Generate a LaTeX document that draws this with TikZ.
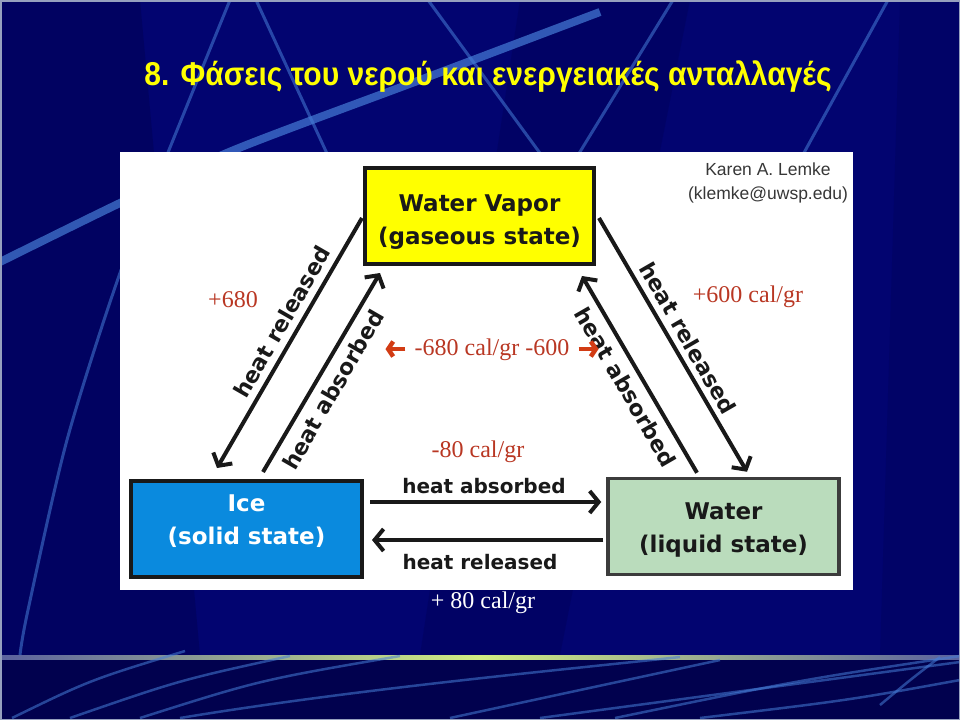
\documentclass[tikz,border=0pt]{standalone}
\usepackage{fontspec}
\usepackage{graphicx}
\setmainfont{Liberation Serif}
\newfontfamily\sansf{Liberation Sans}
\newfontfamily\dejavu{DejaVu Sans}
\usetikzlibrary{arrows.meta,calc}
\definecolor{navy}{RGB}{2,4,112}
\definecolor{navydark}{RGB}{0,0,70}
\definecolor{stripe}{RGB}{70,125,215}
\definecolor{ttl}{RGB}{255,255,0}
\definecolor{lbl}{RGB}{185,55,35}
\definecolor{lblarrow}{RGB}{210,60,20}
\definecolor{vapfill}{RGB}{255,255,0}
\definecolor{icefill}{RGB}{10,138,222}
\definecolor{watfill}{RGB}{186,220,188}
\definecolor{ink}{RGB}{25,25,25}
\definecolor{author}{RGB}{55,55,55}
\definecolor{glow}{RGB}{210,238,130}
\definecolor{frameline}{RGB}{150,160,190}
\begin{document}
\begin{tikzpicture}[x=1pt,y=-1pt,
  phase/.style={draw=ink,line width=4pt,minimum width=229pt,minimum height=96pt,align=center,inner sep=0pt,font=\dejavu\bfseries\fontsize{23}{33}\selectfont},
  flowarrow/.style={draw=ink,line width=4pt,-{Straight Barb[length=9pt,width=22pt]}},
  flowtext/.style={font=\dejavu\bfseries\fontsize{22}{26}\selectfont,text=ink,inner sep=0pt},
  htext/.style={font=\dejavu\bfseries\fontsize{20}{24}\selectfont,text=ink,inner sep=0pt},
  valtext/.style={font=\fontsize{24}{28}\selectfont,text=lbl,inner sep=0pt},
  redarrow/.style={draw=lblarrow,line width=4.5pt,-{Straight Barb[length=5pt,width=15pt]}},
  bgline/.style={draw=stripe,line width=3pt,opacity=0.55},
]
\useasboundingbox (0,0) rectangle (960,720);
% background
\fill[navy] (0,0) rectangle (960,720);
\fill[navydark,opacity=0.35] (0,0) -- (140,0) -- (200,655) -- (0,655) -- cycle;
\fill[navydark,opacity=0.25] (520,0) -- (690,0) -- (560,655) -- (420,655) -- cycle;
\fill[navydark,opacity=0.2] (900,0) -- (960,0) -- (960,655) -- (880,655) -- cycle;
\fill[navydark!80!navy] (0,657) rectangle (960,720);
\shade[left color=frameline!60!navy,right color=frameline!60!navy,middle color=glow] (0,655.5) rectangle (960,659);
% stripes top
\draw[bgline] plot[smooth] coordinates {(230,0) (169,150) (120,273) (67,440) (28,610) (20,655)};
\draw[bgline] (256,0) -- (330,160);
\draw[bgline] (428,0) -- (545,160);
\draw[bgline] (673,0) -- (575,160);
\draw[bgline] (888,0) -- (800,160);
\draw[stripe,line width=8pt,opacity=0.7] plot[smooth] coordinates {(600,12) (420,80) (234,150) (120,203) (0,262)};
% bottom lines
\draw[bgline,line width=2.5pt] (12,718) .. controls (90,680) .. (185,651);
\draw[bgline,line width=2.5pt] (70,718) .. controls (180,680) .. (290,656);
\draw[bgline,line width=2.5pt] (140,718) .. controls (260,680) .. (400,656);
\draw[bgline,line width=2.5pt] (180,718) .. controls (350,690) and (540,672) .. (680,657);
\draw[bgline,line width=2.5pt] (450,718) .. controls (580,690) .. (720,660);
\draw[bgline,line width=2.5pt] (540,718) .. controls (750,690) .. (960,662);
\draw[bgline,line width=2.5pt] (615,718) .. controls (800,680) .. (960,656);
\draw[bgline,line width=2.5pt] (700,718) .. controls (850,700) .. (960,680);
\draw[bgline,line width=2.5pt] (880,705) .. controls (910,680) .. (940,657);
\draw[frameline,line width=1.5pt] (0.75,0.75) rectangle (959.25,719.25);
% title
\node[font=\sansf\bfseries\fontsize{33}{38}\selectfont,text=ttl,inner sep=0pt] (title) at (488,77) {\scalebox{0.91}[1]{8. Φάσεις του νερού και ενεργειακές ανταλλαγές}};
% panel
\fill[white] (120,152) rectangle (853,590);
% boxes
\node[phase,fill=vapfill,text=ink,text height=62.8pt] (vapor) at (479.5,216) {Water Vapor\\(gaseous state)};
\node[phase,fill=icefill,text=white,minimum width=231pt,text depth=19pt] (ice) at (246.5,529) {Ice\\(solid state)};
\node[phase,fill=watfill,text=ink,draw=ink!85,line width=3.5pt,minimum width=231pt,text height=55.8pt] (water) at (723.5,526.5) {Water\\(liquid state)};
\node[font=\sansf\fontsize{17.5}{24}\selectfont,text=author,align=center,inner sep=0pt] (author) at (768,183) {Karen A. Lemke\\(klemke@uwsp.edu)};
% horizontal arrows
\draw[flowarrow] ($(ice.east)+(6,-27)$) -- ($(water.west)+(-5,-24.5)$);
\draw[flowarrow] ($(water.west)+(-3,13.5)$) -- ($(ice.east)+(8,11)$);
\node[htext] (habs) at (484,486) {heat absorbed};
\node[htext] (hrel) at (480,562) {heat released};
% diagonal arrows left
\draw[flowarrow] ($(vapor.west)+(-1,2)$) -- ($(ice.north)+(-29.5,-11)$);
\draw[flowarrow] ($(ice.north)+(16.5,-7)$) -- ($(vapor.south west)+(17,7)$);
\node[flowtext,rotate=60] (lrel) at (282,322) {heat released};
\node[flowtext,rotate=60] (labs) at (333,390) {heat absorbed};
% diagonal arrows right
\draw[flowarrow] ($(vapor.east)+(3,2)$) -- ($(water.north)+(23.5,-5)$);
\draw[flowarrow] ($(water.north)+(-26.5,-4)$) -- ($(vapor.south east)+(-14,10)$);
\node[flowtext,rotate=-60] (rrel) at (688,338) {heat released};
\node[flowtext,rotate=-60] (rabs) at (626,387) {heat absorbed};
% values
\node[valtext] (v680) at (233,300) {+680};
\node[valtext] (v600) at (748,297) {+600 cal/gr};
\node[valtext] (mid) at (492,350) {-680 cal/gr -600};
\node[valtext] (v80) at (478,452) {-80 cal/gr};
\node[valtext,text=white] (p80) at (483,603) {+ 80 cal/gr};
\draw[redarrow] ($(mid.west)+(-9,-1)$) -- ($(mid.west)+(-29,-1)$);
\draw[redarrow] ($(mid.east)+(9,-1)$) -- ($(mid.east)+(29,-1)$);
\end{tikzpicture}
\end{document}
